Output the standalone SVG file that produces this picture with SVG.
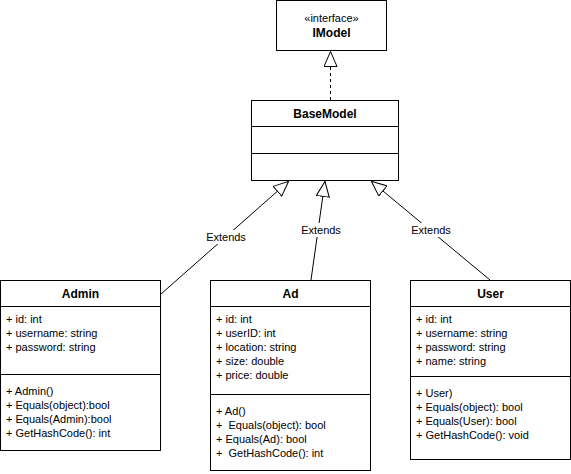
<svg xmlns="http://www.w3.org/2000/svg" width="571" height="474" viewBox="0 0 571 474">
<defs>
<style>
text{font-family:"Liberation Sans",Arial,sans-serif;font-size:11px;fill:#000}
.t{font-size:12px;font-weight:bold;text-anchor:middle}
.c{text-anchor:middle}
.box{fill:#fff;stroke:#000;stroke-width:1}
.ln{stroke:#000;stroke-width:1;fill:none}
.lbl{fill:#fff;stroke:none}
</style>
<marker id="tri" viewBox="0 0 16 14" refX="16" refY="7" markerWidth="16" markerHeight="14" markerUnits="userSpaceOnUse" orient="auto">
<path d="M0.5,0.5 L15.5,7 L0.5,13.5 Z" fill="#fff" stroke="#000" stroke-width="1"/>
</marker>
</defs>
<rect width="571" height="474" fill="#fff"/>
<g id="connectors">
<path class="ln" d="M330.5,100 L330.5,51" stroke-dasharray="3,3" marker-end="url(#tri)"/>
<path class="ln" d="M161,294 L289,181" marker-end="url(#tri)"/>
<path class="ln" d="M311,280 L325,181" marker-end="url(#tri)"/>
<path class="ln" d="M490,280 L371,181" marker-end="url(#tri)"/>
<rect class="lbl" x="205" y="230" width="42" height="14"/>
<text class="c" x="226" y="241">Extends</text>
<rect class="lbl" x="300" y="223" width="42" height="14"/>
<text class="c" x="321" y="234">Extends</text>
<rect class="lbl" x="410" y="223" width="42" height="14"/>
<text class="c" x="431" y="234">Extends</text>
</g>
<g id="IModel">
<rect class="box" x="276.5" y="0.5" width="110" height="50"/>
<text class="c" x="331.5" y="22">«interface»</text>
<text class="t" x="331.5" y="37">IModel</text>
</g>
<g id="BaseModel">
<rect class="box" x="251.5" y="100.5" width="147" height="80"/>
<line class="ln" x1="251.5" y1="126.5" x2="398.5" y2="126.5"/>
<line class="ln" x1="251.5" y1="153.5" x2="398.5" y2="153.5"/>
<text class="t" x="325" y="118">BaseModel</text>
</g>
<g id="Admin">
<rect class="box" x="0.5" y="280.5" width="160" height="170"/>
<line class="ln" x1="0.5" y1="306.5" x2="160.5" y2="306.5"/>
<line class="ln" x1="0.5" y1="374.5" x2="160.5" y2="374.5"/>
<text class="t" x="80.5" y="298">Admin</text>
<text x="6" y="323">+ id: int</text>
<text x="6" y="337">+ username: string</text>
<text x="6" y="351">+ password: string</text>
<text x="6" y="395">+ Admin()</text>
<text x="6" y="409">+ Equals(object):bool</text>
<text x="6" y="423">+ Equals(Admin):bool</text>
<text x="6" y="437">+ GetHashCode(): int</text>
</g>
<g id="Ad">
<rect class="box" x="210.5" y="280.5" width="160" height="190"/>
<line class="ln" x1="210.5" y1="306.5" x2="370.5" y2="306.5"/>
<line class="ln" x1="210.5" y1="394.5" x2="370.5" y2="394.5"/>
<text class="t" x="290.5" y="298">Ad</text>
<text x="216" y="323">+ id: int</text>
<text x="216" y="337">+ userID: int</text>
<text x="216" y="351">+ location: string</text>
<text x="216" y="365">+ size: double</text>
<text x="216" y="379">+ price: double</text>
<text x="216" y="415">+ Ad()</text>
<text x="216" y="429" xml:space="preserve">+  Equals(object): bool</text>
<text x="216" y="443">+ Equals(Ad): bool</text>
<text x="216" y="457" xml:space="preserve">+  GetHashCode(): int</text>
</g>
<g id="User">
<rect class="box" x="410.5" y="280.5" width="160" height="179"/>
<line class="ln" x1="410.5" y1="306.5" x2="570.5" y2="306.5"/>
<line class="ln" x1="410.5" y1="376.5" x2="570.5" y2="376.5"/>
<text class="t" x="490.5" y="298">User</text>
<text x="416" y="323">+ id: int</text>
<text x="416" y="337">+ username: string</text>
<text x="416" y="351">+ password: string</text>
<text x="416" y="365">+ name: string</text>
<text x="416" y="397">+ User)</text>
<text x="416" y="411">+ Equals(object): bool</text>
<text x="416" y="425">+ Equals(User): bool</text>
<text x="416" y="439">+ GetHashCode(): void</text>
</g>
</svg>
